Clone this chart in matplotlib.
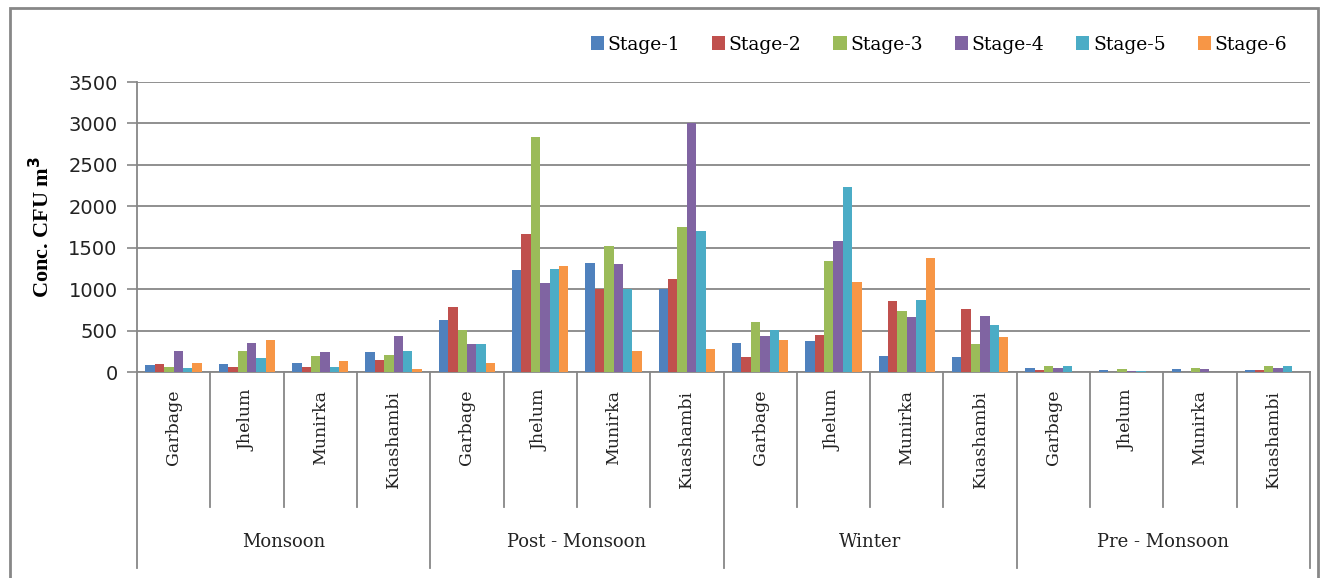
import numpy as np
import matplotlib
matplotlib.use("Agg")
import matplotlib.pyplot as plt
import matplotlib.transforms as mtransforms
from matplotlib.patches import Rectangle

# sampling sites and seasons
sites = ["Garbage", "Jhelum", "Munirka", "Kuashambi"]
seasons = ["Monsoon", "Post - Monsoon", "Winter", "Pre - Monsoon"]
stages = ["Stage-1", "Stage-2", "Stage-3", "Stage-4", "Stage-5", "Stage-6"]

# concentration (CFU m^-3), 4 sites x 4 seasons in order
stage1 = [81, 98, 114, 236, 633, 1233, 1310, 1000, 352, 369, 198, 182, 52, 20, 32, 28]
stage2 = [98, 65, 65, 142, 786, 1664, 1000, 1124, 182, 450, 851, 757, 28, 5, 3, 28]
stage3 = [65, 252, 191, 208, 512, 2833, 1515, 1745, 603, 1345, 741, 340, 68, 36, 52, 68]
stage4 = [252, 346, 236, 440, 339, 1080, 1298, 3000, 429, 1580, 664, 680, 48, 16, 36, 48]
stage5 = [49, 175, 65, 252, 339, 1249, 1000, 1697, 506, 2228, 863, 571, 72, 12, 0, 72]
stage6 = [114, 391, 130, 33, 109, 1282, 250, 282, 385, 1081, 1377, 417, 0, 0, 0, 0]

series = [stage1, stage2, stage3, stage4, stage5, stage6]
colors = ["#4F81BD", "#C0504D", "#9BBB59", "#8064A2", "#4BACC6", "#F79646"]
grey = "#878787"

fig = plt.figure(figsize=(13.21, 5.78), dpi=100)
ax = fig.add_axes([0.1037, 0.3564, 0.8880, 0.5017])

n = len(sites) * len(seasons)
x = np.arange(n)
w = 0.128
for i, (vals, c, lab) in enumerate(zip(series, colors, stages)):
    ax.bar(x + (i - 2.5) * w, vals, width=w, color=c, label=lab, zorder=3)

ax.set_xlim(-0.5, n - 0.5)
ax.set_ylim(0, 3500)
ax.set_yticks(np.arange(0, 3501, 500))
ax.yaxis.grid(True, color=grey, linewidth=1.3, zorder=0)
ax.tick_params(axis="y", direction="out", length=7, color=grey, width=1.2,
               labelsize=14, pad=7, labelcolor="#222222")
ax.set_xticks([])
for s in ["top", "right"]:
    ax.spines[s].set_visible(False)
for s in ["left", "bottom"]:
    ax.spines[s].set_color(grey)
    ax.spines[s].set_linewidth(1.3)

ax.set_ylabel("Conc. CFU m$^{\\mathbf{3}}$", family="Liberation Serif",
              fontweight="bold", fontsize=16, labelpad=10)

# two-level category axis
trans = mtransforms.blended_transform_factory(ax.transData, ax.transAxes)
for b in np.arange(-0.5, n, 1.0):
    low = -0.676 if (b + 0.5) % 4 == 0 else -0.4655
    ax.plot([b, b], [0, low], transform=trans, color=grey, linewidth=1.3,
            clip_on=False)
for k in range(n):
    ax.text(x[k], -0.062, sites[k % 4], transform=trans, rotation=90,
            ha="center", va="top", family="DejaVu Serif", fontsize=12.5,
            color="#222222")
for g, name in enumerate(seasons):
    ax.text(g * 4 + 1.5, -0.586, name, transform=trans, ha="center",
            va="center", family="DejaVu Serif", fontsize=13, color="#222222")

leg = ax.legend(loc="lower right", bbox_to_anchor=(0.995, 1.04), ncol=6,
                frameon=False, handlelength=0.7, handleheight=0.7,
                handletextpad=0.2, columnspacing=1.7,
                prop={"family": "DejaVu Serif", "size": 13.5})

# outer chart border
fig.patches.append(Rectangle((10 / 1321, -0.05), 1308 / 1321, 1.05 - 8 / 578,
                             transform=fig.transFigure, fill=False,
                             edgecolor=grey, linewidth=2))

fig.savefig("out.png", dpi=100)
